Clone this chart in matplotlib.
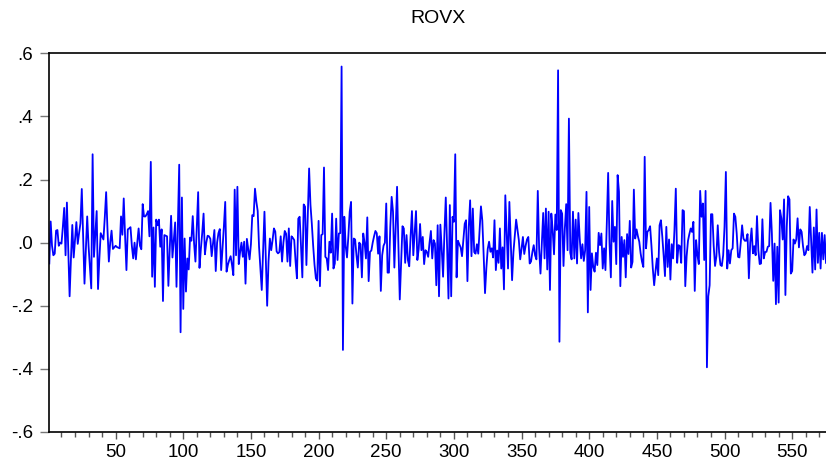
import numpy as np
import matplotlib
matplotlib.use("Agg")
import matplotlib.pyplot as plt
from matplotlib.ticker import MultipleLocator, FixedLocator

rovx_001_075 = [
    -0.066, 0.067, -0.01, -0.04, -0.035, 0.038, 0.040, -0.010, 0.000, -0.003,
    0.05, 0.110, -0.040, 0.127, -0.02, -0.170, -0.05, 0.056, -0.047, 0.01,
    0.065, -0.004, 0.03, 0.061, 0.170, 0.02, -0.130, -0.02, 0.083, -0.01,
    -0.08, -0.145, 0.280, -0.045, 0.03, 0.100, -0.147, -0.05, 0.030, 0.02,
    0.010, 0.08, 0.160, 0.04, -0.060, 0.0, 0.038, -0.020, -0.015, -0.010,
    -0.014, -0.016, -0.018, 0.083, 0.025, 0.140, 0.02, -0.087, 0.042, 0.045,
    0.049, -0.01, -0.050, 0.000, -0.053, 0.0, 0.045, -0.01, -0.021, 0.122,
    0.083, 0.083, 0.09, 0.100, 0.02,
]
rovx_076_149 = [
    0.256, -0.108, 0.048, -0.140, 0.073, 0.055, 0.073, -0.013, 0.042, -0.185,
    0.024, 0.022, 0.02, -0.137, -0.02, 0.085, -0.047, 0.01, 0.064, -0.140,
    0.05, 0.247, -0.284, 0.143, -0.210, 0.013, -0.155, -0.05, -0.085, 0.016,
    0.006, 0.084, -0.003, -0.060, 0.05, 0.160, -0.080, -0.02, 0.03, 0.092,
    -0.037, 0.0, 0.022, 0.02, 0.012, -0.043, 0.0, 0.040, -0.090, 0.0,
    0.03, 0.043, -0.087, -0.02, 0.05, 0.129, -0.092, -0.07, -0.055, -0.043,
    -0.07, -0.103, 0.168, -0.040, 0.177, -0.068, -0.03, 0.000, -0.045, 0.003,
    -0.130, 0.012, -0.02, -0.053,
]
rovx_150_224 = [
    -0.005, 0.087, 0.084, 0.171, 0.13, 0.100, -0.013, -0.08, -0.150, -0.03,
    0.098, -0.05, -0.200, -0.06, 0.013, -0.024, 0.008, 0.045, 0.035, -0.028,
    -0.034, -0.030, 0.020, -0.060, 0.0, 0.037, 0.028, -0.060, 0.045, -0.074,
    0.020, 0.015, 0.008, -0.06, -0.113, 0.076, 0.082, -0.01, -0.110, 0.121,
    0.114, -0.071, 0.08, 0.235, 0.12, 0.060, -0.01, -0.07, -0.113, -0.120,
    0.069, -0.138, 0.024, 0.027, 0.238, -0.045, -0.05, -0.087, 0.003, -0.032,
    0.092, -0.082, -0.066, 0.076, -0.055, 0.029, 0.03, 0.558, -0.340, 0.082,
    -0.01, -0.047, 0.02, 0.098, 0.129,
]
rovx_225_296 = [
    -0.193, 0.013, 0.010, -0.04, -0.079, 0.0, -0.005, -0.110, 0.029, 0.0,
    -0.050, 0.080, -0.122, -0.029, -0.025, 0.0, 0.02, 0.037, 0.030, -0.035,
    0.020, -0.153, -0.04, -0.01, 0.0, 0.124, -0.095, -0.095, 0.05, 0.145,
    0.098, -0.079, 0.05, 0.177, -0.01, -0.180, -0.06, 0.052, 0.045, -0.064,
    0.024, -0.055, -0.075, 0.02, 0.100, -0.040, 0.03, 0.100, -0.055, -0.02,
    0.059, -0.024, 0.018, -0.068, -0.024, -0.03, -0.045, 0.0, 0.037, -0.050,
    0.008, -0.003, -0.135, 0.055, -0.170, 0.057, -0.02, -0.108, 0.03, 0.143,
    -0.02, -0.177,
]
rovx_297_371 = [
    0.119, -0.170, 0.082, 0.066, 0.280, -0.110, 0.006, -0.005, -0.015, -0.043,
    0.01, 0.060, 0.071, -0.122, 0.05, 0.134, -0.043, 0.108, -0.03, -0.035,
    -0.005, -0.035, 0.04, 0.115, 0.07, -0.04, -0.160, -0.08, -0.02, 0.003,
    -0.029, -0.018, -0.047, 0.071, -0.087, -0.025, -0.064, 0.045, -0.082, -0.015,
    -0.148, 0.150, 0.03, -0.082, 0.129, 0.0, -0.119, -0.03, 0.02, 0.073,
    0.04, 0.008, -0.053, -0.02, 0.018, -0.036, -0.01, 0.010, 0.018, -0.066,
    -0.060, -0.03, -0.008, -0.04, -0.053, 0.164, -0.02, -0.098, 0.0, 0.094,
    -0.050, 0.108, -0.085, 0.098, -0.150,
]
rovx_372_443 = [
    0.092, 0.04, -0.037, 0.089, 0.040, 0.546, -0.314, 0.103, 0.092, -0.074,
    0.045, 0.122, -0.024, 0.393, -0.032, -0.053, 0.098, -0.050, 0.073, -0.066,
    0.094, 0.013, -0.050, -0.005, -0.058, -0.024, 0.161, -0.221, 0.113, -0.150,
    -0.034, -0.078, -0.092, -0.032, -0.071, 0.031, -0.008, 0.029, -0.082, -0.018,
    -0.087, 0.06, 0.221, 0.0, -0.110, 0.132, 0.003, 0.050, -0.068, 0.214,
    0.161, -0.138, 0.018, -0.045, 0.008, -0.110, 0.027, -0.036, 0.069, -0.079,
    -0.061, 0.168, 0.013, 0.042, 0.02, 0.003, -0.034, -0.06, -0.077, 0.272,
    -0.018, 0.034,
]
rovx_444_518 = [
    0.04, 0.052, -0.01, -0.082, -0.135, -0.09, -0.050, -0.103, 0.055, 0.071,
    0.02, -0.04, -0.106, 0.050, -0.077, 0.01, -0.117, -0.005, -0.05, 0.04,
    0.171, -0.064, -0.008, -0.011, -0.064, 0.103, 0.10, -0.138, -0.043, 0.006,
    0.027, 0.045, 0.034, 0.066, -0.153, 0.008, -0.040, -0.068, 0.164, 0.082,
    0.124, -0.055, 0.164, -0.395, -0.170, -0.135, 0.090, 0.090, -0.01, -0.074,
    -0.043, 0.055, -0.03, -0.071, -0.074, -0.04, 0.05, 0.224, -0.082, -0.024,
    -0.066, -0.024, -0.018, 0.092, 0.082, 0.03, -0.045, -0.047, 0.0, 0.055,
    0.013, 0.006, 0.006, 0.027, -0.113,
]
rovx_519_575 = [
    0.0, 0.045, -0.034, -0.011, -0.04, 0.084, -0.024, -0.068, -0.066, 0.074,
    -0.050, -0.03, -0.029, -0.013, -0.011, 0.126, 0.029, -0.121, -0.003, -0.195,
    -0.013, -0.190, 0.103, 0.077, 0.01, 0.137, -0.166, 0.05, 0.147, 0.137,
    -0.098, -0.09, 0.01, -0.003, 0.01, 0.077, -0.015, 0.042, 0.034, -0.011,
    -0.040, -0.034, -0.011, -0.024, 0.113, 0.013, -0.095, 0.048, -0.085, 0.105,
    -0.064, 0.031, -0.082, 0.031, -0.053, 0.024, -0.064,
]

rovx = (rovx_001_075 + rovx_076_149 + rovx_150_224 + rovx_225_296
        + rovx_297_371 + rovx_372_443 + rovx_444_518 + rovx_519_575)
obs = np.arange(1, len(rovx) + 1)

y_ticks = [-0.6, -0.4, -0.2, 0.0, 0.2, 0.4, 0.6]
y_labels = ["-.6", "-.4", "-.2", ".0", ".2", ".4", ".6"]

plt.rcParams["font.family"] = ["Liberation Sans", "DejaVu Sans"]

fig = plt.figure(figsize=(8.26, 4.69), dpi=100)
ax = fig.add_axes([0.0597, 0.0789, 0.9403, 0.8075])

ax.plot(obs, rovx, color="#0000ff", linewidth=1.3)

ax.set_xlim(1, 575)
ax.set_ylim(-0.6, 0.6)
ax.xaxis.set_major_locator(MultipleLocator(50))
ax.xaxis.set_minor_locator(MultipleLocator(10))
ax.yaxis.set_major_locator(FixedLocator(y_ticks))
ax.set_yticklabels(y_labels)

ax.tick_params(axis="x", which="major", direction="out", length=5, width=1,
               color="#555555", labelsize=13.5, pad=4)
ax.tick_params(axis="x", which="minor", direction="out", length=3.5, width=1,
               color="#555555")
ax.tick_params(axis="y", direction="out", length=6.5, width=1, color="#777777",
               labelsize=13.5, pad=5)

for side in ["left", "top", "bottom"]:
    ax.spines[side].set_linewidth(1.2)
    ax.spines[side].set_color("black")
ax.spines["right"].set_visible(False)

ax.set_title("ROVX", fontsize=14, pad=22)

fig.savefig("out.png", dpi=100)
